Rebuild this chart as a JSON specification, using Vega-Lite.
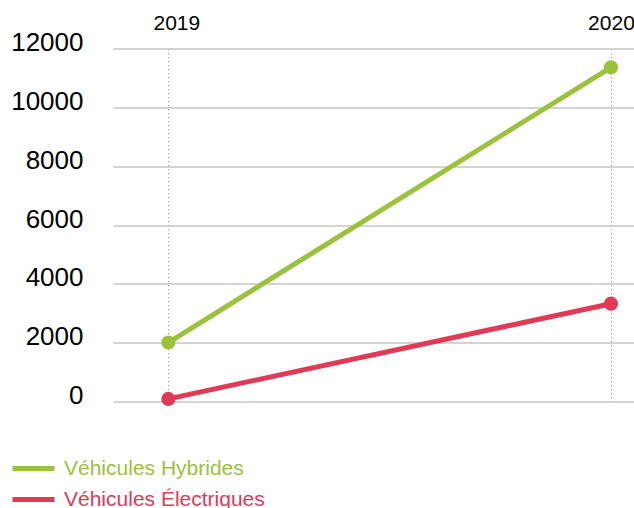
{
  "$schema": "https://vega.github.io/schema/vega-lite/v6.json",
  "width": 521,
  "height": 353.2,
  "autosize": {"type": "none"},
  "padding": {"left": 113, "top": 48.5, "right": 0, "bottom": 106.3},
  "background": "white",
  "config": {
    "view": {"stroke": null},
    "font": "Liberation Sans"
  },
  "data": {
    "values": [
      {"year": 2019, "serie": "Véhicules Hybrides", "value": 2010},
      {"year": 2020, "serie": "Véhicules Hybrides", "value": 11360},
      {"year": 2019, "serie": "Véhicules Électriques", "value": 95},
      {"year": 2020, "serie": "Véhicules Électriques", "value": 3330}
    ]
  },
  "encoding": {
    "x": {
      "field": "year",
      "type": "quantitative",
      "scale": {"domain": [2018.875, 2020.052], "nice": false, "zero": false},
      "axis": {
        "orient": "top",
        "title": null,
        "values": [2019, 2020],
        "format": "d",
        "domain": false,
        "ticks": false,
        "grid": true,
        "gridColor": "#8a8a8a",
        "gridDash": [1, 3],
        "gridWidth": 1,
        "labelFontSize": 21,
        "labelColor": "#000000",
        "labelPadding": 15,
        "labelFlush": false,
        "labelOffset": {"expr": "datum.value == 2019 ? 8 : 0"}
      }
    },
    "y": {
      "field": "value",
      "type": "quantitative",
      "scale": {"domain": [0, 12000], "nice": false},
      "axis": {
        "title": null,
        "values": [0, 2000, 4000, 6000, 8000, 10000, 12000],
        "format": "d",
        "domain": false,
        "ticks": false,
        "grid": true,
        "gridColor": "#c4c4c4",
        "gridWidth": 1.5,
        "labelFontSize": 26,
        "labelColor": "#000000",
        "labelPadding": 30,
        "labelOffset": -6
      }
    },
    "color": {
      "field": "serie",
      "type": "nominal",
      "scale": {
        "domain": ["Véhicules Hybrides", "Véhicules Électriques"],
        "range": ["#9bc23d", "#e03a57"]
      },
      "legend": {
        "title": null,
        "orient": "none",
        "legendX": -103,
        "legendY": 410,
        "direction": "vertical",
        "symbolType": "stroke",
        "symbolSize": 1764,
        "symbolStrokeWidth": 5,
        "clipHeight": 20,
        "labelFontSize": 21,
        "labelLimit": 400,
        "labelOffset": 7,
        "rowPadding": 10,
        "encode": {"labels": {"update": {"fill": {"scale": "color", "field": "value"}}}}
      }
    }
  },
  "layer": [
    {"mark": {"type": "line", "strokeWidth": 5}},
    {"mark": {"type": "point", "filled": true, "opacity": 1, "size": 200, "shape": "circle"}}
  ]
}
